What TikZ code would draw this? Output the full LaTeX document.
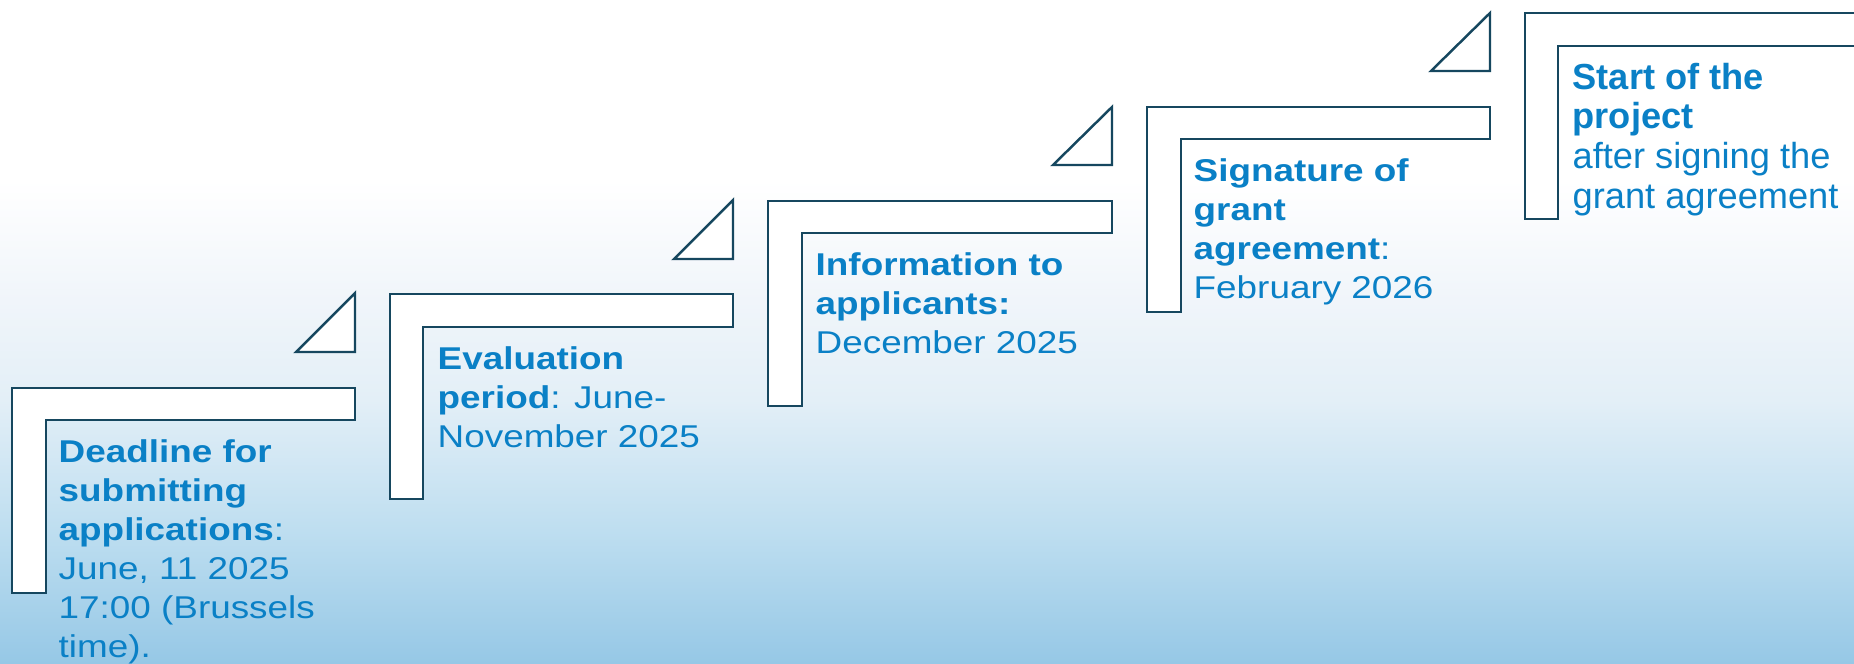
\documentclass[tikz,border=0pt]{standalone}
\usepackage{fontspec}
\setmainfont{Liberation Sans}
\newfontfamily\widesans{Liberation Sans}[FakeStretch=1.17]
\definecolor{edgeblue}{HTML}{16475F}
\definecolor{txtblue}{HTML}{0A80C6}
\definecolor{sbA}{RGB}{150,200,230}
\definecolor{sbB}{RGB}{190,222,240}
\definecolor{sbC}{RGB}{227,239,247}
\definecolor{sbD}{RGB}{240,245,250}
\pgfdeclareverticalshading{bgshade}{100bp}{color(0bp)=(sbA); color(25bp)=(sbA); color(38.75bp)=(sbB); color(52.25bp)=(sbC); color(62.5bp)=(sbD); color(75bp)=(white); color(100bp)=(white)}
\tikzset{
  lshape/.style={fill=white, draw=edgeblue, line width=0.7pt, line join=miter},
  tri/.style={fill=white, draw=edgeblue, line width=0.7pt, line join=miter},
  lbl/.style={anchor=base west, align=left, inner sep=0pt, text=txtblue,
    font=\widesans\fontsize{8.96}{11.07}\selectfont},
  lblr/.style={anchor=base west, align=left, inner sep=0pt, text=txtblue,
    font=\fontsize{10.3}{11.27}\selectfont}
}
\begin{document}
\begin{tikzpicture}[x=0.01cm, y=-0.01cm]
\useasboundingbox (0,0) rectangle (1854,663);
\begin{scope}
\clip (0,0) rectangle (1854,663);
\fill[white] (0,0) rectangle (1854,663);
\shade[shading=bgshade] (0,180) rectangle (1854,663);
% step 1
\draw[lshape] (12,388) -- (355,388) -- (355,420) -- (46,420) -- (46,593) -- (12,593) -- cycle;
\draw[tri] (296,352) -- (355,352) -- (355,293) -- cycle;
% step 2
\draw[lshape] (390,294) -- (733,294) -- (733,327) -- (423,327) -- (423,499) -- (390,499) -- cycle;
\draw[tri] (674,259) -- (733,259) -- (733,200) -- cycle;
% step 3
\draw[lshape] (768,201) -- (1112,201) -- (1112,233) -- (802,233) -- (802,406) -- (768,406) -- cycle;
\draw[tri] (1053,165) -- (1112,165) -- (1112,107) -- cycle;
% step 4
\draw[lshape] (1147,107) -- (1490,107) -- (1490,139) -- (1181,139) -- (1181,312) -- (1147,312) -- cycle;
\draw[tri] (1431,71) -- (1490,71) -- (1490,13) -- cycle;
% step 5
\draw[lshape] (1525,13) -- (1880,13) -- (1880,46) -- (1558,46) -- (1558,219) -- (1525,219) -- cycle;
\end{scope}
% anchors sit on the baseline of each text's last line
\node[lbl] (t1) at (58,657) {\textbf{Deadline for}\\\textbf{submitting}\\\textbf{applications}:\\June, 11 2025\\17:00 (Brussels\\time).};
\node[lbl] (t2) at (437,447) {\textbf{Evaluation}\\\textbf{period}: June-\\November 2025};
\node[lbl] (t3) at (815,353) {\textbf{Information to}\\\textbf{applicants:}\\December 2025};
\node[lbl] (t4) at (1193,298) {\textbf{Signature of}\\\textbf{grant}\\\textbf{agreement}:\\February 2026};
\node[lblr] (t5) at (1572,208) {\textbf{Start of the}\\\textbf{project}\\after signing the\\grant agreement};
\end{tikzpicture}
\end{document}
